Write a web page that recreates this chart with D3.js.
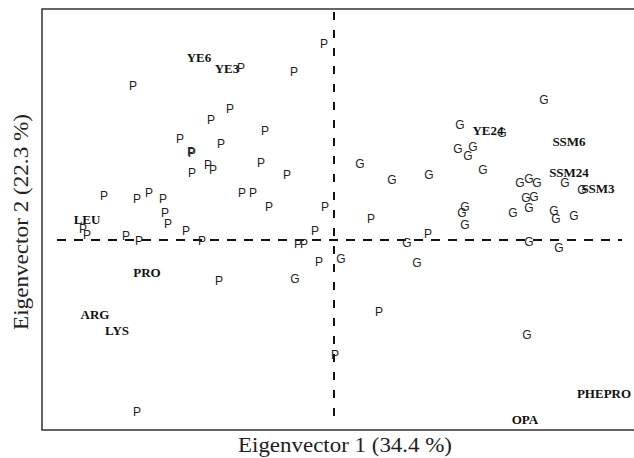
<!DOCTYPE html>
<meta charset="utf-8">
<script src="https://d3js.org/d3.v7.min.js"></script>
<style>
  body { margin: 0; background: #fff; }
</style>
<svg id="chart" width="634" height="458"></svg>
<script>
// Scores (eigenvector 1, eigenvector 2)
var pX = [-0.10, -0.93, -0.40, -2.01, -1.04, -1.23, -0.69, -1.54, -1.43, -1.42, -1.13, -0.73,
          -1.26, -1.21, -1.42, -0.47, -2.30, -1.97, -1.85, -1.71, -0.92, -0.81, -0.65, -0.09,
          -1.69, -1.66, -2.51, -2.47, -1.48, -2.08, -1.95, -1.32, -0.19, -0.36, -0.30, -0.15,
          -1.15, 0.01, -1.97, 0.37, 0.94, 0.45];
var pY = [1.96, 1.72, 1.68, 1.54, 1.31, 1.20, 1.09, 1.01, 0.88, 0.87, 0.96, 0.77,
          0.75, 0.70, 0.67, 0.65, 0.44, 0.41, 0.47, 0.41, 0.47, 0.47, 0.33, 0.33,
          0.27, 0.16, 0.11, 0.05, 0.09, 0.04, -0.01, -0.01, 0.09, -0.04, -0.04, -0.22,
          -0.41, -1.15, -1.72, 0.21, 0.06, -0.72];

var gX = [2.10, 1.26, 1.68, 1.24, 1.39, 1.34, 0.26, 0.58, 0.95, 1.49, 1.86, 1.95, 2.03,
          2.31, 2.48, 1.92, 2.00, 1.31, 1.28, 1.31, 1.79, 1.95, 2.20, 2.22, 2.40, 0.73,
          1.95, 2.25, 0.07, -0.39, 0.83, 1.93];
var gY = [1.40, 1.15, 1.07, 0.91, 0.93, 0.84, 0.76, 0.60, 0.65, 0.70, 0.57, 0.61, 0.57,
          0.57, 0.50, 0.42, 0.43, 0.33, 0.27, 0.15, 0.27, 0.32, 0.29, 0.21, 0.24, -0.03,
          -0.02, -0.08, -0.19, -0.39, -0.23, -0.95];

var labelNames = ["YE6", "YE3", "YE24", "SSM6", "SSM24", "SSM3", "LEU", "PRO", "ARG", "LYS", "PHEPRO", "OPA"];
var labelX = [-1.35, -1.07, 1.54, 2.35, 2.35, 2.64, -2.47, -1.87, -2.39, -2.17, 2.70, 1.91];
var labelY = [1.83, 1.72, 1.10, 0.99, 0.68, 0.52, 0.21, -0.32, -0.74, -0.90, -1.53, -1.79];

var xTitle = "Eigenvector 1 (34.4 %)";
var yTitle = "Eigenvector 2 (22.3 %)";

var svg = d3.select("#chart");
var plotLeft = 42, plotTop = 9, plotBottom = 430, plotRight = 634;

var x = d3.scaleLinear().domain([-2.92, 3.0]).range([plotLeft, plotRight]);
var y = d3.scaleLinear().domain([-1.9, 2.31]).range([plotBottom, plotTop]);

// open frame (right side runs off the page)
var frame = d3.path();
frame.moveTo(plotRight, plotTop);
frame.lineTo(plotLeft, plotTop);
frame.lineTo(plotLeft, plotBottom);
frame.lineTo(plotRight, plotBottom);
svg.append("path")
    .attr("d", frame.toString())
    .attr("fill", "none")
    .attr("stroke", "#333")
    .attr("stroke-width", 1.5);

// dashed zero lines
svg.append("line")
    .attr("x1", x(-2.77)).attr("x2", x(2.88))
    .attr("y1", y(0)).attr("y2", y(0))
    .attr("stroke", "#111").attr("stroke-width", 2)
    .attr("stroke-dasharray", "9,8");
svg.append("line")
    .attr("x1", x(0)).attr("x2", x(0))
    .attr("y1", y(2.28)).attr("y2", y(-1.8))
    .attr("stroke", "#111").attr("stroke-width", 2)
    .attr("stroke-dasharray", "8,10");

function drawLetters(xs, ys, letter) {
    svg.append("g")
        .selectAll("text")
        .data(xs)
        .enter().append("text")
        .attr("x", function(d) { return x(d); })
        .attr("y", function(d, i) { return y(ys[i]); })
        .attr("text-anchor", "middle")
        .attr("dominant-baseline", "central")
        .style("font-family", "'Liberation Sans', Arial, sans-serif")
        .style("font-size", "12px")
        .style("fill", "#222")
        .text(letter);
}
drawLetters(pX, pY, "P");
drawLetters(gX, gY, "G");

// variable labels
svg.append("g")
    .selectAll("text")
    .data(labelNames)
    .enter().append("text")
    .attr("x", function(d, i) { return x(labelX[i]); })
    .attr("y", function(d, i) { return y(labelY[i]); })
    .attr("text-anchor", "middle")
    .attr("dominant-baseline", "central")
    .style("font-family", "'Liberation Serif', 'Times New Roman', serif")
    .style("font-weight", "bold")
    .style("font-size", "13px")
    .style("fill", "#111")
    .text(function(d) { return d; });

// axis titles
svg.append("text")
    .attr("x", 345)
    .attr("y", 452)
    .attr("text-anchor", "middle")
    .attr("textLength", 214)
    .attr("lengthAdjust", "spacingAndGlyphs")
    .style("font-family", "'Liberation Serif', 'Times New Roman', serif")
    .style("font-size", "21px")
    .style("fill", "#222")
    .text(xTitle);

svg.append("text")
    .attr("transform", "translate(28,222) rotate(-90)")
    .attr("text-anchor", "middle")
    .attr("textLength", 216)
    .attr("lengthAdjust", "spacingAndGlyphs")
    .style("font-family", "'Liberation Serif', 'Times New Roman', serif")
    .style("font-size", "21px")
    .style("fill", "#222")
    .text(yTitle);
</script>
